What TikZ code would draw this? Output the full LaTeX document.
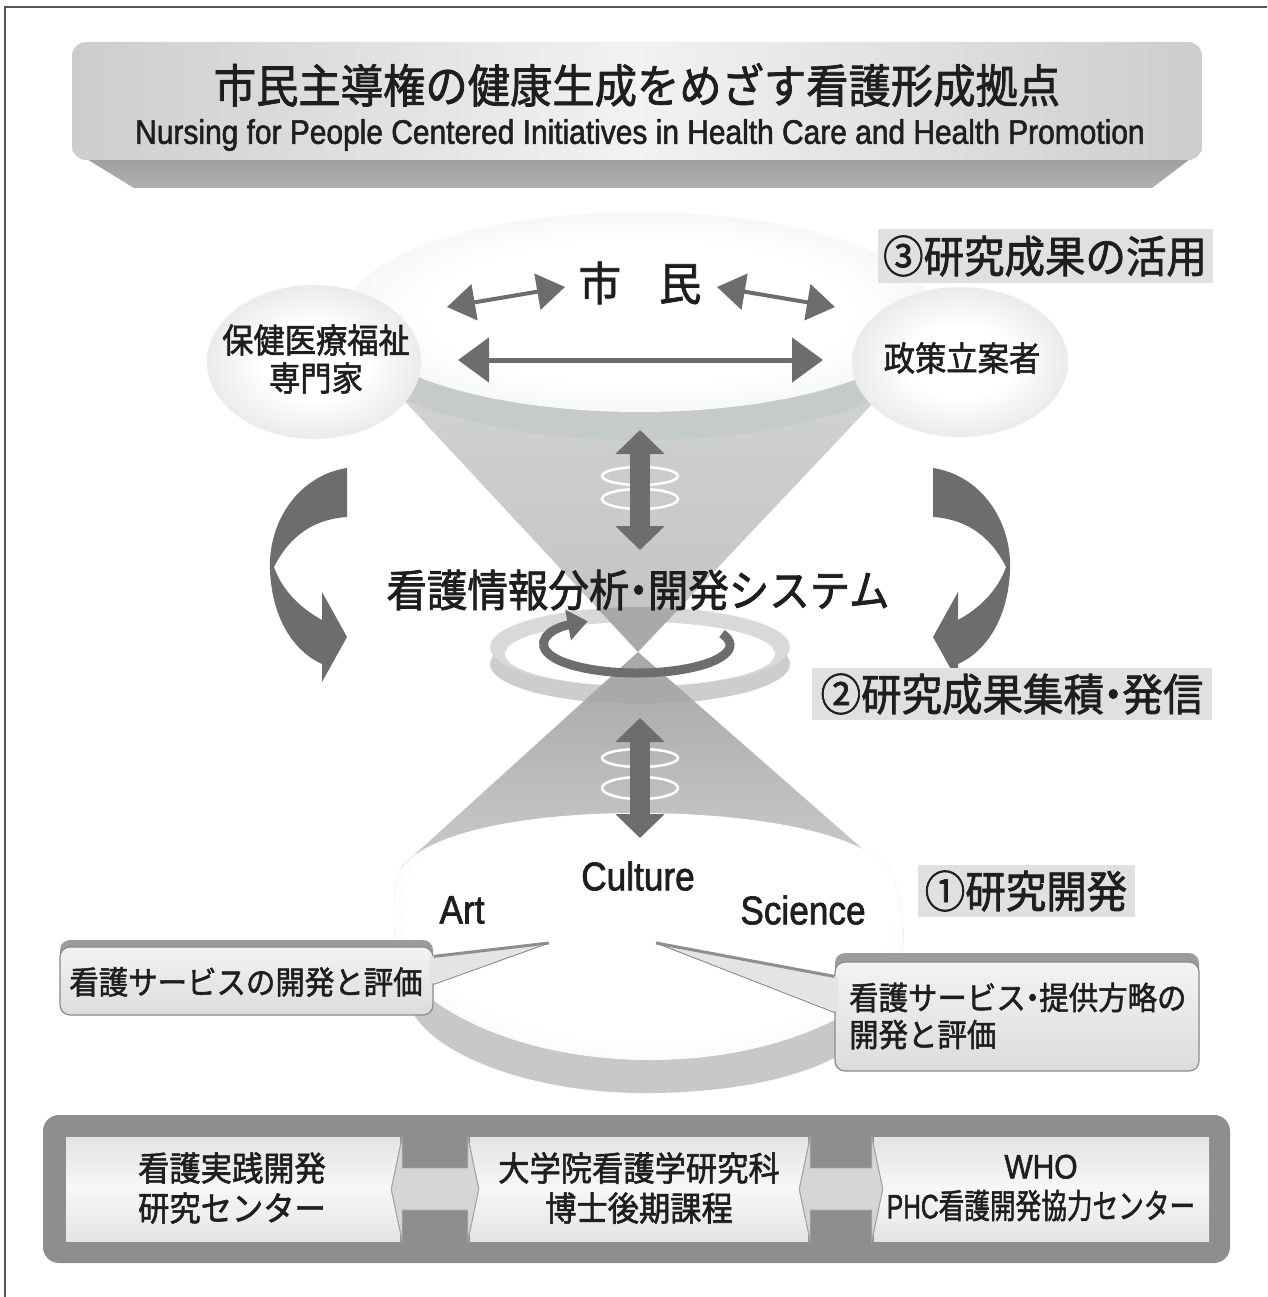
\documentclass[tikz,border=0pt]{standalone}
\usepackage{fontspec}
\usepackage{graphicx}
\usetikzlibrary{arrows.meta,shapes.geometric,calc}
\newfontfamily\jp[FakeStretch=0.92,FakeBold=1.6]{Noto Sans CJK JP}
\newfontfamily\en[FakeStretch=0.88,FakeBold=1.6]{Liberation Sans}
\newcommand{\nd}{\mbox{\hspace{-0.25em}・\hspace{-0.25em}}}
\definecolor{txt}{HTML}{1E1E1E}
\definecolor{arr}{HTML}{6D6D6D}
\definecolor{framec}{HTML}{555555}
\definecolor{bevA}{HTML}{9A9A9A}
\definecolor{bevB}{HTML}{B0B0B0}
\definecolor{tl}{HTML}{CDCDCD}
\definecolor{tm}{HTML}{F2F2F2}
\definecolor{coneA}{HTML}{D2D2D2}
\definecolor{coneB}{HTML}{C2C2C2}
\definecolor{lconeA}{HTML}{A6A6A6}
\definecolor{lconeB}{HTML}{CACACA}
\definecolor{rim}{HTML}{C5CACA}
\definecolor{faceO}{HTML}{DCDCDC}
\definecolor{circO}{HTML}{C4C4C4}
\definecolor{lbl}{HTML}{E0E0E0}
\definecolor{discside}{HTML}{CDCDCD}
\definecolor{disctop}{HTML}{D9D9D9}
\definecolor{conedk}{HTML}{A9A9A9}
\definecolor{blobO}{HTML}{C8C8C8}
\definecolor{blobI}{HTML}{D6D6D6}
\definecolor{wedgeF}{HTML}{E4E4E4}
\definecolor{wedgeL}{HTML}{8E8E8E}
\definecolor{shadowc}{HTML}{9C9C9C}
\definecolor{cbdraw}{HTML}{8A8A8A}
\definecolor{cbA}{HTML}{F3F3F3}
\definecolor{cbB}{HTML}{DCDCDC}
\definecolor{barc}{HTML}{8E8E8E}
\definecolor{bxA}{HTML}{E4E4E4}
\definecolor{bxM}{HTML}{F7F7F7}
\definecolor{connF}{HTML}{D6D6D6}
\definecolor{connL}{HTML}{A3A3A3}
\pgfdeclareradialshading{shTop}{\pgfpointorigin}{color(0bp)=(white); color(18bp)=(white); color(50bp)=(faceO)}
\pgfdeclareradialshading{shCirc}{\pgfpointorigin}{color(0bp)=(white); color(12bp)=(white); color(50bp)=(circO)}
\pgfdeclareradialshading{shBlob}{\pgfpointorigin}{color(0bp)=(white); color(22bp)=(white); color(50bp)=(blobI)}
\begin{document}
\begin{tikzpicture}[x=1pt,y=-1pt,
  jpt/.style 2 args={font=\jp\fontsize{#1}{#2}\selectfont, text=txt, inner sep=0pt},
  ent/.style 2 args={font=\en\fontsize{#1}{#2}\selectfont, text=txt, inner sep=0pt},
  lblbox/.style={fill=lbl, inner sep=0pt},
  smallarr/.style={draw=arr, line width=4pt, {Triangle[length=28pt,width=36pt]}-{Triangle[length=28pt,width=36pt]}},
  longarr/.style={draw=arr, line width=5pt, {Triangle[length=31pt,width=44pt]}-{Triangle[length=31pt,width=44pt]}},
  vertarr/.style={draw=arr, line width=20pt, {Triangle[length=24pt,width=48pt]}-{Triangle[length=24pt,width=48pt]}},
  ringc/.style={draw=white, line width=2.5pt},
  sidecirc/.style={ellipse, inner sep=0pt, shade, shading=shCirc},
  callbox/.style={rounded corners=10pt, draw=cbdraw, line width=1.2pt, top color=cbA, bottom color=cbB, inner sep=0pt},
  bottombox/.style={top color=bxA, bottom color=bxA, middle color=bxM, inner sep=0pt, minimum height=104pt},
  conn/.style={fill=connF, draw=connL, line width=0.8pt}
]
\useasboundingbox (0,0) rectangle (1267,1297);
\fill[white] (0,0) rectangle (1267,1297);
\draw[framec, line width=1.3pt] (5,1297) -- (5,7) -- (1267,7);

% ---- title banner
\shade[top color=bevA, bottom color=bevB] (72,150) -- (1202,150) -- (1152,188) -- (134,188) -- cycle;
\shade[rounded corners=14pt, left color=tl, right color=tl, middle color=tm] (72,42) rectangle (1202,160);
\node[jpt={46}{50}] (title) at (637,85) {市民主導権の健康生成をめざす看護形成拠点};
\node[ent={34}{38}] (subtitle) at (640,135) {Nursing for People Centered Initiatives in Health Care and Health Promotion};

% ---- cones
\shade[top color=coneA, bottom color=coneB] (385,380) -- (895,380) -- (638,652) -- cycle;
\shade[top color=lconeA, bottom color=lconeB] (638,652) -- (882,866) -- (402,866) -- cycle;

% ---- top disc
\fill[rim] (640,340) ellipse [x radius=292, y radius=100];
\shade[shading=shTop] (640,312) ellipse [x radius=292, y radius=100];

% ---- side circles
\node[sidecirc, minimum width=214pt, minimum height=154pt] (lc) at (314,362) {};
\node[sidecirc, minimum width=216pt, minimum height=150pt] (rc) at (960,362) {};

% ---- label 3
\node[lblbox, jpt={44}{48}, minimum width=335pt, minimum height=53pt] (l3) at (1045,256) {③研究成果の活用};

% ---- texts in top disc
\node[jpt={46}{50}] (shimin) at (640,283) {市\hspace{38pt}民};
\node[jpt={34}{38}, align=center] (hoken) at (316,359) {保健医療福祉\\専門家};
\node[jpt={34}{38}] (seisaku) at (962,358) {政策立案者};

\coordinate (a1) at (447,307);
\coordinate (a2) at (565,287);
\coordinate (a3) at (717,287);
\coordinate (a4) at (835,307);
\coordinate (h1) at (458,360);
\coordinate (h2) at (823,360);
\draw[smallarr] (a1) -- (a2);
\draw[smallarr] (a3) -- (a4);
\draw[longarr] (h1) -- (h2);

% ---- upper vertical arrow
\coordinate (v1) at (640,430);
\coordinate (v2) at (640,550);
\draw[ringc] (640,476) ellipse [x radius=38, y radius=9];
\draw[ringc] (640,499) ellipse [x radius=38, y radius=10];
\draw[vertarr] (v1) -- (v2);

% ---- curved side arrows
\fill[arr] (347,468) .. controls (300,475) and (268,520) .. (270,570)
  .. controls (272,620) and (295,652) .. (322,664) -- (322,682) -- (347,637) -- (322,592) -- (322,620)
  .. controls (300,608) and (282,590) .. (274,567)
  .. controls (290,535) and (315,519) .. (347,517) -- cycle;
\fill[arr] (933,468) .. controls (980,475) and (1012,520) .. (1010,570)
  .. controls (1008,620) and (985,652) .. (958,664) -- (958,682) -- (933,637) -- (958,592) -- (958,620)
  .. controls (980,608) and (998,590) .. (1006,567)
  .. controls (990,535) and (965,519) .. (933,517) -- cycle;

% ---- middle disc
\fill[discside] (640,664) ellipse [x radius=150, y radius=40];
\fill[disctop] (640,647) ellipse [x radius=150, y radius=40];
\fill[white] (640,654) ellipse [x radius=135, y radius=32];
\begin{scope}
\clip (490,647) -- (490,664) arc [start angle=180, end angle=0, x radius=150, y radius=40]
  -- (790,647) arc [start angle=0, end angle=-180, x radius=150, y radius=40] -- cycle;
\fill[conedk] (385,380) -- (895,380) -- (638,652) -- cycle;
\fill[conedk] (638,652) -- (882,866) -- (402,866) -- cycle;
\end{scope}
\draw[arr, line width=9pt, -{Triangle[length=20pt,width=30pt]}] (637,645) ++(-24:93 and 28)
  arc [start angle=-24, end angle=238, x radius=93, y radius=28];

\node[jpt={44}{48}] (system) at (638,590) {看護情報分析\nd 開発システム};

% ---- label 2
\node[lblbox, jpt={44}{48}, minimum width=400pt, minimum height=52pt] (l2) at (1012,694) {②研究成果集積\nd 発信};

% ---- bottom blob
\fill[blobO] (637,813) .. controls (760,813) and (880,835) .. (895,880)
  .. controls (910,930) and (905,985) .. (880,1022)
  .. controls (835,1080) and (720,1094) .. (638,1093)
  .. controls (540,1092) and (440,1060) .. (412,1012)
  .. controls (395,980) and (392,930) .. (395,885)
  .. controls (400,835) and (520,813) .. (637,813) -- cycle;
\begin{scope}
\clip (637,813) .. controls (760,813) and (880,835) .. (895,880)
  .. controls (910,930) and (905,985) .. (880,1022)
  .. controls (835,1080) and (720,1094) .. (638,1093)
  .. controls (540,1092) and (440,1060) .. (412,1012)
  .. controls (395,980) and (392,930) .. (395,885)
  .. controls (400,835) and (520,813) .. (637,813) -- cycle;
\shade[shading=shBlob] (650,905) ellipse [x radius=275, y radius=155];
\end{scope}

% ---- lower vertical arrow
\coordinate (v3) at (640,718);
\coordinate (v4) at (640,838);
\draw[ringc] (640,758) ellipse [x radius=38, y radius=9];
\draw[ringc] (640,788) ellipse [x radius=38, y radius=11];
\draw[vertarr] (v3) -- (v4);

\node[ent={40}{44}] (art) at (462,910) {Art};
\node[ent={40}{44}] (culture) at (638,876) {Culture};
\node[ent={40}{44}] (science) at (803,910) {Science};

\node[lblbox, jpt={44}{48}, minimum width=217pt, minimum height=52pt] (l1) at (1026,891) {①研究開発};

% ---- callouts
\coordinate (tipL) at (549,943);
\coordinate (tipR) at (656,943);
\fill[shadowc, rounded corners=10pt] (60,940) rectangle (433,1005);
\fill[shadowc, rounded corners=10pt] (835,953) rectangle (1199,1060);
\node[callbox, minimum width=373pt, minimum height=68pt] (cl) at (246.5,981) {};
\node[callbox, minimum width=364pt, minimum height=109pt] (cr) at (1017,1016.5) {};
\fill[wedgeF] ($(cl.north east)+(-4,10)$) -- (tipL) -- ($(cl.north east)+(-4,38)$) -- cycle;
\draw[wedgeL, line width=3pt] ($(cl.north east)+(0,10)$) -- (tipL);
\draw[wedgeL, line width=1pt] (tipL) -- ($(cl.north east)+(0,38)$);
\fill[wedgeF] ($(cr.north west)+(4,15)$) -- (tipR) -- ($(cr.north west)+(4,51)$) -- cycle;
\draw[wedgeL, line width=3pt] ($(cr.north west)+(0,15)$) -- (tipR);
\draw[wedgeL, line width=1pt] (tipR) -- ($(cr.north west)+(0,51)$);
\node[jpt={32}{37}] (clt) at (246,982) {看護サービスの開発と評価};
\node[jpt={32}{37}, align=left, anchor=west] (crt) at (849,1016) {看護サービス\nd 提供方略の\\開発と評価};

% ---- bottom bar
\fill[barc, rounded corners=16pt] (43,1115) rectangle (1230,1263);
\node[bottombox, minimum width=334pt] (b1) at (233,1189) {};
\node[bottombox, minimum width=338pt] (b2) at (639,1189) {};
\node[bottombox, minimum width=335pt] (b3) at (1041.5,1189) {};
\fill[conn] ($(b1.east)+(-9,0)$) -- ($(b1.north east)+(2,0)$) -- ($(b1.east)+(2,-21)$)
  -- ($(b2.west)+(-2,-21)$) -- ($(b2.north west)+(-2,0)$) -- ($(b2.west)+(9,0)$)
  -- ($(b2.south west)+(-2,0)$) -- ($(b2.west)+(-2,21)$) -- ($(b1.east)+(2,21)$)
  -- ($(b1.south east)+(2,0)$) -- cycle;
\draw[connL, line width=0.8pt] ($(b1.north east)+(2,0)$) -- ($(b1.east)+(-9,0)$) -- ($(b1.south east)+(2,0)$);
\draw[connL, line width=0.8pt] ($(b2.north west)+(-2,0)$) -- ($(b2.west)+(9,0)$) -- ($(b2.south west)+(-2,0)$);
\fill[conn] ($(b2.east)+(-9,0)$) -- ($(b2.north east)+(2,0)$) -- ($(b2.east)+(2,-21)$)
  -- ($(b3.west)+(-2,-21)$) -- ($(b3.north west)+(-2,0)$) -- ($(b3.west)+(9,0)$)
  -- ($(b3.south west)+(-2,0)$) -- ($(b3.west)+(-2,21)$) -- ($(b2.east)+(2,21)$)
  -- ($(b2.south east)+(2,0)$) -- cycle;
\draw[connL, line width=0.8pt] ($(b2.north east)+(2,0)$) -- ($(b2.east)+(-9,0)$) -- ($(b2.south east)+(2,0)$);
\draw[connL, line width=0.8pt] ($(b3.north west)+(-2,0)$) -- ($(b3.west)+(9,0)$) -- ($(b3.south west)+(-2,0)$);

\node[jpt={34}{40}, align=center] (b1t) at (232,1188) {看護実践開発\\研究センター};
\node[jpt={34}{40}, align=center] (b2t) at (639,1188) {大学院看護学研究科\\博士後期課程};
\node[jpt={34}{40}, align=center] (b3t) at (1041,1188) {{\en WHO}\\\scalebox{0.82}[1]{\en PHC\jp 看護開発協力センター}};
\end{tikzpicture}
\end{document}
